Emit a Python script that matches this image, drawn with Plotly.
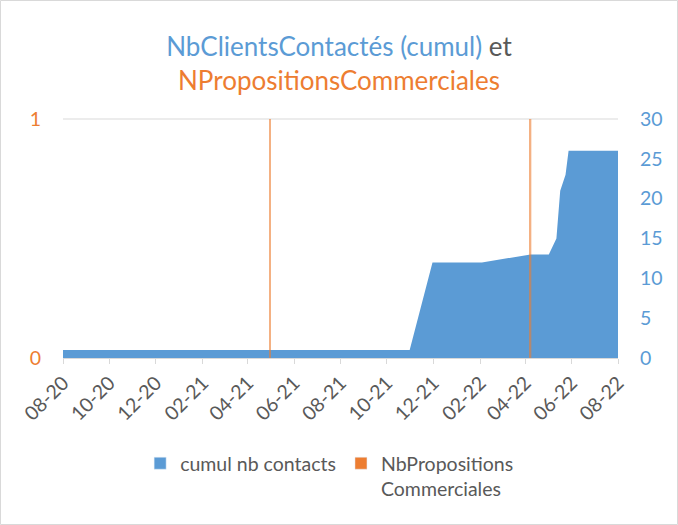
import plotly.graph_objects as go

# Data
contact_dates = ["2020-08-01", "2021-10-31", "2021-11-30", "2022-02-03", "2022-04-08",
                 "2022-05-02", "2022-05-12", "2022-05-17", "2022-05-24", "2022-05-28", "2022-08-01"]
contact_cumul = [1, 1, 12, 12, 13, 13, 15, 21, 23, 26, 26]

prop_dates = ["2021-04-30", "2022-04-08"]
prop_values = [1, 1]

tick_dates = ["2020-08-01", "2020-10-01", "2020-12-01", "2021-02-01", "2021-04-01", "2021-06-01",
              "2021-08-01", "2021-10-01", "2021-12-01", "2022-02-01", "2022-04-01", "2022-06-01",
              "2022-08-01"]

NAME_CONTACTS = "cumul nb contacts"
NAME_PROPS = "NbPropositions<br>Commerciales"

BLUE = "#5B9BD5"
ORANGE = "#ED7D31"
GRAY = "#595959"
LIGHT = "#D9D9D9"
FONT = "Lato"
FS = 19.5

fig = go.Figure()
fig.add_trace(go.Scatter(
    x=contact_dates, y=contact_cumul, name=NAME_CONTACTS,
    mode="none", fill="tozeroy", fillcolor=BLUE, yaxis="y", showlegend=False,
))
fig.add_trace(go.Bar(
    x=prop_dates, y=prop_values, name=NAME_PROPS,
    marker=dict(color=ORANGE, line=dict(width=0)), opacity=0.6,
    width=86400000 * 2.0, yaxis="y2", showlegend=False,
))
# legend entries (square swatches as in the original)
fig.add_trace(go.Bar(x=[None], y=[None], name=NAME_CONTACTS,
                     marker=dict(color=BLUE), yaxis="y2", showlegend=True))
fig.add_trace(go.Bar(x=[None], y=[None], name=NAME_PROPS,
                     marker=dict(color=ORANGE), yaxis="y2", showlegend=True))

fig.update_layout(
    width=678, height=525, autosize=False,
    margin=dict(l=63, r=60, t=119, b=167),
    paper_bgcolor="white", plot_bgcolor="white",
    font=dict(family=FONT, color=GRAY, size=FS),
    title=dict(
        text=f"<span style='color:{BLUE}'>NbClientsContactés (cumul)</span> et<br>"
             f"<span style='color:{ORANGE}'>NPropositionsCommerciales</span>",
        x=0.5, xanchor="center", y=1 - 56 / 525, yanchor="middle", yref="container",
        font=dict(family=FONT, size=26, color=GRAY),
    ),
    xaxis=dict(
        type="date", range=["2020-08-01", "2022-08-01"],
        tickvals=tick_dates, tickformat="%m-%y", tickangle=-45,
        ticks="outside", ticklen=5, tickcolor=LIGHT,
        showline=True, linecolor=LIGHT, linewidth=1,
        showgrid=False, zeroline=False,
        tickfont=dict(size=FS, color=GRAY),
    ),
    yaxis=dict(
        side="right", range=[0, 30], dtick=5, showgrid=False, zeroline=False,
        showline=False, tickfont=dict(size=FS, color=BLUE),
        ticks="outside", ticklen=17, tickcolor="rgba(0,0,0,0)",
    ),
    yaxis2=dict(
        overlaying="y", side="left", range=[0, 1], dtick=1, showgrid=False,
        zeroline=False, showline=False,
        tickfont=dict(size=FS, color=ORANGE), ticks="outside", ticklen=17, tickcolor="rgba(0,0,0,0)",
    ),
    legend=dict(
        orientation="h", x=(140 - 63) / 554, xanchor="left", y=-0.36, yanchor="top",
        font=dict(size=FS, color=GRAY), bgcolor="rgba(0,0,0,0)", valign="top",
    ),
    showlegend=True,
    shapes=[
        dict(type="line", xref="paper", yref="paper", x0=0, x1=1, y0=1, y1=1,
             line=dict(color=LIGHT, width=1), layer="below"),
        dict(type="rect", xref="paper", yref="paper",
             x0=(0.5 - 63) / 555, x1=(677.5 - 63) / 555,
             y0=(358 - 524.5) / 239, y1=(358 - 0.5) / 239,
             line=dict(color=LIGHT, width=1), fillcolor="rgba(0,0,0,0)", layer="below"),
    ],
)

fig.write_html("out.html", config={"displayModeBar": False},
               post_script="document.body.style.margin='0';")
